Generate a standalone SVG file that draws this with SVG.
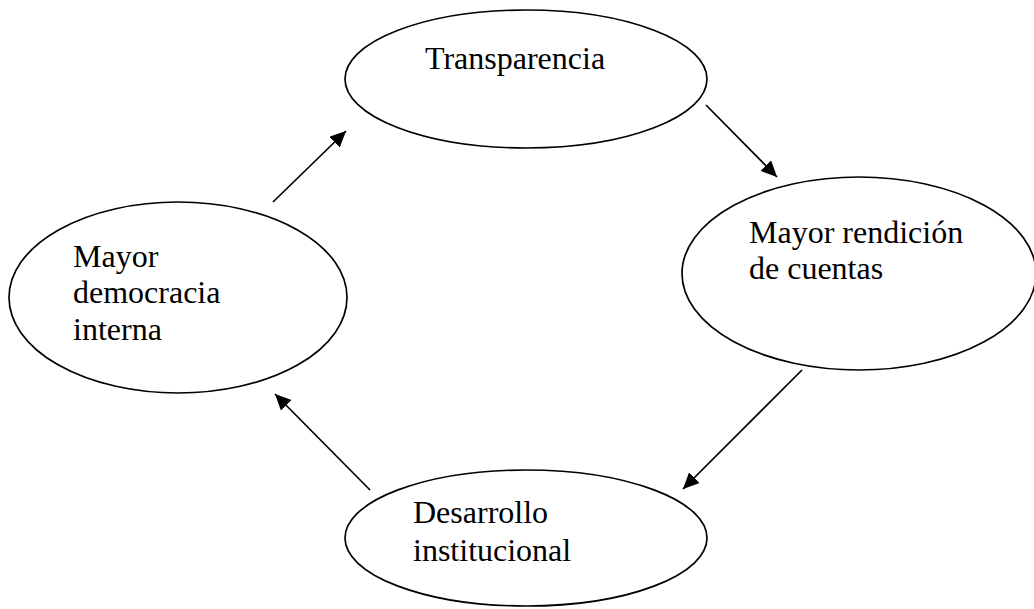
<svg xmlns="http://www.w3.org/2000/svg" width="1034" height="609" viewBox="0 0 1034 609">
<style>
.node ellipse{fill:#fff;stroke:#000;stroke-width:1.7}
.node text{font-family:"Liberation Serif","Times New Roman",serif;font-size:32px;fill:#000}
.conn line{stroke:#000;stroke-width:1.7}
</style>
<defs>
<marker id="ah" markerUnits="userSpaceOnUse" markerWidth="17" markerHeight="16" refX="16" refY="7.5" orient="auto">
<path d="M0,0 L16,7.5 L0,15 z" fill="#000"/>
</marker>
</defs>
<rect width="1034" height="609" fill="#fff"/>
<g id="n-transparencia" class="node">
<ellipse cx="526" cy="79" rx="181" ry="69"/>
<text x="425" y="69">Transparencia</text>
</g>
<g id="n-rendicion" class="node">
<ellipse cx="859" cy="273.5" rx="177" ry="96.5"/>
<text x="749" y="243">Mayor rendición</text>
<text x="749" y="279">de cuentas</text>
</g>
<g id="n-desarrollo" class="node">
<ellipse cx="526" cy="538" rx="181" ry="68"/>
<text x="413" y="523">Desarrollo</text>
<text x="413" y="561">institucional</text>
</g>
<g id="n-democracia" class="node">
<ellipse cx="178" cy="297.5" rx="169" ry="95.5"/>
<text x="73" y="267">Mayor</text>
<text x="73" y="303">democracia</text>
<text x="73" y="340">interna</text>
</g>
<g id="connectors" class="conn">
<line x1="273" y1="202" x2="346" y2="131" marker-end="url(#ah)"/>
<line x1="706" y1="105" x2="777" y2="177" marker-end="url(#ah)"/>
<line x1="802" y1="370" x2="683" y2="489" marker-end="url(#ah)"/>
<line x1="370" y1="490" x2="275" y2="394" marker-end="url(#ah)"/>
</g>
</svg>
